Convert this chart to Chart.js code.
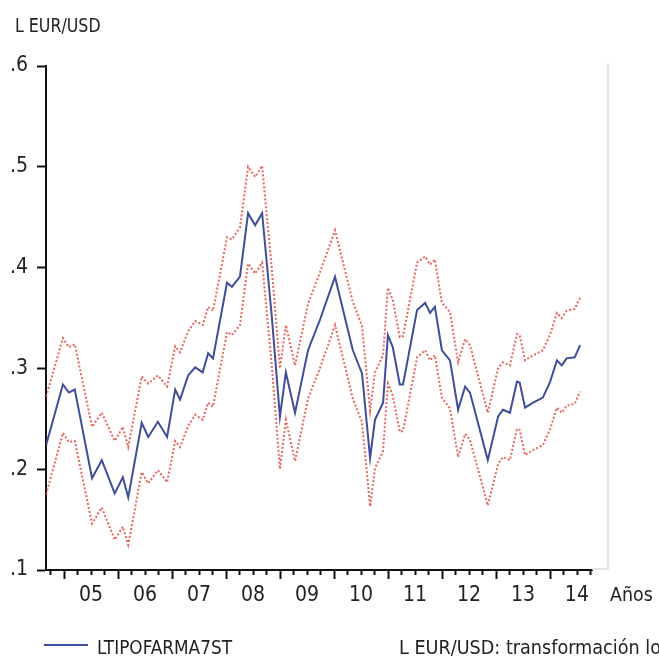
<!DOCTYPE html>
<html>
<head>
<meta charset="utf-8">
<script src="https://cdn.jsdelivr.net/npm/chart.js@4"></script>
<style>
  body { margin: 0; background: #fff; }
  #wrap { position: relative; width: 659px; height: 657px; overflow: hidden; }
  #chart { position: absolute; left: 0; top: 0; }
  .txt { position: absolute; font-family: "Liberation Sans Narrow", "DejaVu Sans Condensed", "Roboto Condensed", sans-serif; font-size: 20px; color: #222; white-space: nowrap; line-height: 1; transform-origin: left top; }
  #legLine { position: absolute; left: 44px; top: 644px; width: 44px; height: 2px; background: #3f4e96; }
</style>
</head>
<body>
<div id="wrap">
  <canvas id="chart" width="659" height="657"></canvas>
  <div class="txt" style="left:15px; top:15px; transform:scaleX(0.88);">L EUR/USD</div>
  <div class="txt" style="left:610px; top:584px; transform:scaleX(0.97);">Años</div>
  <div id="legLine"></div>
  <div class="txt" style="left:97px; top:637px; transform:scaleX(0.94);">LTIPOFARMA7ST</div>
  <div class="txt" style="left:399px; top:637px; transform:scaleX(0.98);">L EUR/USD: transformación logarítmica</div>
</div>
<script>
// fechas (año decimal) de los vértices
const fechas = [
  2004.67, 2004.98, 2005.09, 2005.20, 2005.52, 2005.70, 2005.94, 2006.09, 2006.19, 2006.44,
  2006.56, 2006.74, 2006.91, 2007.06, 2007.15, 2007.30, 2007.43, 2007.57, 2007.67, 2007.76,
  2008.02, 2008.11, 2008.26, 2008.41, 2008.54, 2008.67, 2008.85, 2009.00, 2009.11, 2009.28,
  2009.52, 2009.74, 2010.02, 2010.35, 2010.52, 2010.67, 2010.76, 2010.91, 2011.00, 2011.09,
  2011.22, 2011.28, 2011.54, 2011.69, 2011.78, 2011.87, 2012.00, 2012.15, 2012.30, 2012.43,
  2012.52, 2012.85, 2013.04, 2013.13, 2013.26, 2013.39, 2013.44, 2013.54, 2013.69, 2013.87,
  2014.00, 2014.13, 2014.22, 2014.31, 2014.46, 2014.56
];

// LTIPOFARMA7ST (línea azul)
const estimado = [
  0.224, 0.284, 0.276, 0.279, 0.191, 0.209, 0.176, 0.192, 0.172, 0.246,
  0.232, 0.247, 0.232, 0.279, 0.269, 0.293, 0.301, 0.296, 0.315, 0.310,
  0.385, 0.381, 0.391, 0.454, 0.442, 0.454, 0.351, 0.252, 0.296, 0.256,
  0.318, 0.348, 0.391, 0.318, 0.295, 0.211, 0.249, 0.266, 0.333, 0.321,
  0.284, 0.284, 0.358, 0.365, 0.355, 0.361, 0.318, 0.308, 0.259, 0.282,
  0.276, 0.209, 0.252, 0.259, 0.256, 0.287, 0.286, 0.261, 0.266, 0.271,
  0.286, 0.308, 0.303, 0.310, 0.311, 0.323
];

// banda superior (rojo punteado)
const bandaSup = [
  0.272, 0.330, 0.321, 0.324, 0.242, 0.256, 0.228, 0.242, 0.222, 0.292,
  0.285, 0.293, 0.282, 0.322, 0.316, 0.337, 0.347, 0.343, 0.361, 0.357,
  0.430, 0.428, 0.440, 0.500, 0.490, 0.501, 0.398, 0.300, 0.343, 0.303,
  0.364, 0.395, 0.437, 0.366, 0.342, 0.258, 0.296, 0.313, 0.380, 0.368,
  0.331, 0.332, 0.405, 0.411, 0.403, 0.408, 0.365, 0.356, 0.306, 0.329,
  0.323, 0.256, 0.300, 0.306, 0.303, 0.334, 0.333, 0.308, 0.313, 0.318,
  0.333, 0.355, 0.350, 0.357, 0.359, 0.370
];

// banda inferior (rojo punteado)
const bandaInf = [
  0.175, 0.236, 0.227, 0.228, 0.146, 0.162, 0.130, 0.143, 0.125, 0.197,
  0.186, 0.199, 0.187, 0.228, 0.222, 0.243, 0.254, 0.249, 0.266, 0.262,
  0.336, 0.333, 0.343, 0.404, 0.394, 0.405, 0.302, 0.200, 0.249, 0.208,
  0.270, 0.300, 0.343, 0.270, 0.247, 0.163, 0.201, 0.218, 0.285, 0.273,
  0.237, 0.238, 0.311, 0.318, 0.308, 0.313, 0.271, 0.260, 0.212, 0.235,
  0.229, 0.164, 0.205, 0.212, 0.209, 0.240, 0.239, 0.214, 0.219, 0.224,
  0.239, 0.261, 0.256, 0.263, 0.265, 0.277
];

const anios = [2005, 2006, 2007, 2008, 2009, 2010, 2011, 2012, 2013, 2014];
const etiquetasX = ['05', '06', '07', '08', '09', '10', '11', '12', '13', '14'];
const valoresY = [0.1, 0.2, 0.3, 0.4, 0.5, 0.6];
const etiquetasY = ['.1', '.2', '.3', '.4', '.5', '.6'];

const FUENTE = '"Liberation Sans Narrow", "DejaVu Sans Condensed", sans-serif';
const ROJO = 'rgba(229, 95, 85, 0.95)';

function puntos(valores) {
  return fechas.map((f, i) => ({ x: f, y: valores[i] }));
}

// marcas del eje X: largas en cada año, cortas cada trimestre
const marcasX = {
  id: 'marcasX',
  afterDraw(chart) {
    const ctx = chart.ctx;
    const x = chart.scales.x;
    const area = chart.chartArea;
    ctx.save();
    ctx.strokeStyle = '#111';
    ctx.lineWidth = 2;
    for (let q = 2004.75; q <= x.max + 0.001; q += 0.25) {
      const px = Math.round(x.getPixelForValue(q)) + 0.5;
      const largo = Math.abs(q - Math.round(q)) < 0.01 ? 9 : 5;
      ctx.beginPath();
      ctx.moveTo(px, area.bottom);
      ctx.lineTo(px, area.bottom + largo);
      ctx.stroke();
    }
    // marco gris claro a la derecha
    ctx.strokeStyle = '#e4e4e4';
    ctx.lineWidth = 2;
    ctx.beginPath();
    ctx.moveTo(area.right, area.bottom - 1);
    ctx.lineTo(area.right + 16, area.bottom - 1);
    ctx.lineTo(area.right + 16, area.top - 3);
    ctx.stroke();
    ctx.restore();
  }
};

new Chart(document.getElementById('chart'), {
  type: 'line',
  data: {
    datasets: [
      {
        label: 'LTIPOFARMA7ST',
        data: puntos(estimado),
        borderColor: '#3f4e96',
        borderWidth: 2,
        pointRadius: 0,
        tension: 0
      },
      {
        label: 'sup',
        data: puntos(bandaSup),
        borderColor: ROJO,
        borderWidth: 2,
        borderDash: [2, 2],
        pointRadius: 0,
        tension: 0
      },
      {
        label: 'inf',
        data: puntos(bandaInf),
        borderColor: ROJO,
        borderWidth: 2,
        borderDash: [2, 2],
        pointRadius: 0,
        tension: 0
      }
    ]
  },
  options: {
    responsive: false,
    animation: false,
    layout: { padding: { top: 66, right: 67, left: 0, bottom: 0 } },
    plugins: {
      legend: { display: false },
      tooltip: { enabled: false }
    },
    scales: {
      x: {
        type: 'linear',
        min: 2004.667,
        max: 2014.78,
        afterFit: s => { s.height = 87; },
        afterBuildTicks: s => { s.ticks = anios.map(a => ({ value: a + 0.5 })); },
        grid: { display: true, drawOnChartArea: false, drawTicks: true, tickLength: 9, tickColor: 'rgba(0,0,0,0)' },
        border: { display: true, color: '#111', width: 2 },
        ticks: {
          autoSkip: false,
          maxRotation: 0,
          padding: 4,
          color: '#222',
          font: { family: FUENTE, size: 21 },
          callback: (v, i) => etiquetasX[i]
        }
      },
      y: {
        min: 0.1,
        max: 0.6,
        afterFit: s => { s.width = 46; },
        afterBuildTicks: s => { s.ticks = valoresY.map(v => ({ value: v })); },
        grid: { display: true, drawOnChartArea: false, drawTicks: true, tickLength: 9, tickColor: '#111', tickWidth: 2 },
        border: { display: true, color: '#111', width: 2 },
        ticks: {
          padding: 9,
          color: '#222',
          font: { family: FUENTE, size: 21 },
          callback: (v, i) => etiquetasY[i]
        }
      }
    }
  },
  plugins: [marcasX]
});
</script>
</body>
</html>
